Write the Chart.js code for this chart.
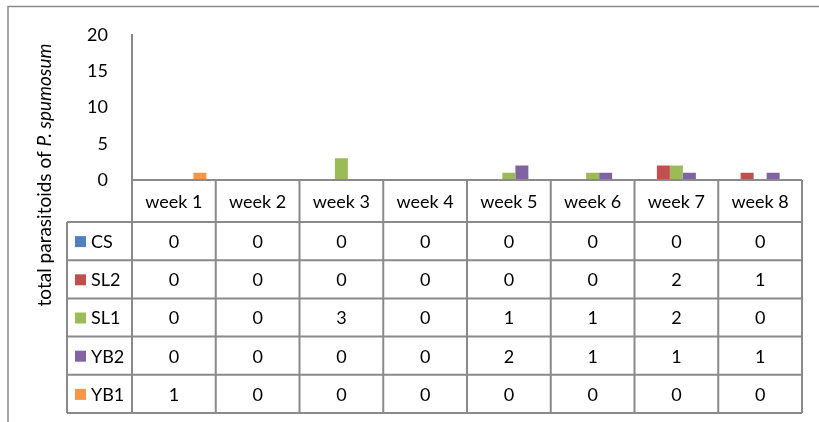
<!DOCTYPE html>
<html>
<head>
<meta charset="utf-8">
<script src="https://cdn.jsdelivr.net/npm/chart.js@4.4.1/dist/chart.umd.min.js"></script>
<style>
  html, body { margin: 0; padding: 0; background: #ffffff; }
  canvas { display: block; }
</style>
</head>
<body>
<canvas id="chart" width="819" height="422"></canvas>
<script>
// Weekly counts of parasitoids per treatment
const weeks = ['week 1', 'week 2', 'week 3', 'week 4', 'week 5', 'week 6', 'week 7', 'week 8'];
const seriesNames = ['CS', 'SL2', 'SL1', 'YB2', 'YB1'];
const csValues  = [0, 0, 0, 0, 0, 0, 0, 0];
const sl2Values = [0, 0, 0, 0, 0, 0, 2, 1];
const sl1Values = [0, 0, 3, 0, 1, 1, 2, 0];
const yb2Values = [0, 0, 0, 0, 2, 1, 1, 1];
const yb1Values = [1, 0, 0, 0, 0, 0, 0, 0];
const yTickValues = [0, 5, 10, 15, 20];

const seriesValues = [csValues, sl2Values, sl1Values, yb2Values, yb1Values];
const seriesColors = ['#4F81BD', '#C0504D', '#9BBB59', '#8064A2', '#F79646'];

const FONT = 'Lato, "Open Sans", sans-serif';
const LINE = '#8a8a8a';

// Layout of the data table under the plot
const TABLE = { headerBottom: 222, rowH: 38.2, legendLeft: 67 };

const framePlugin = {
  id: 'frame',
  beforeDraw(chart) {
    const ctx = chart.ctx;
    ctx.save();
    ctx.strokeStyle = LINE;
    ctx.lineWidth = 1.5;
    ctx.beginPath();
    ctx.moveTo(8, 422); ctx.lineTo(8, 6.5); ctx.lineTo(819, 6.5);
    ctx.stroke();
    ctx.restore();
  }
};

const yTitlePlugin = {
  id: 'yTitle',
  afterDraw(chart) {
    const ctx = chart.ctx;
    const parts = [
      { text: 'total parasitoids of ', font: '19px ' + FONT },
      { text: 'P. spumosum', font: 'italic 19px ' + FONT }
    ];
    ctx.save();
    let total = 0;
    parts.forEach(p => { ctx.font = p.font; p.w = ctx.measureText(p.text).width; total += p.w; });
    ctx.translate(45, 175);
    ctx.rotate(-Math.PI / 2);
    ctx.fillStyle = '#000';
    ctx.textBaseline = 'middle';
    ctx.textAlign = 'left';
    let x = -total / 2;
    parts.forEach(p => { ctx.font = p.font; ctx.fillText(p.text, x, 0); x += p.w; });
    ctx.restore();
  }
};

const dataTablePlugin = {
  id: 'dataTable',
  afterDraw(chart) {
    const ctx = chart.ctx;
    const ca = chart.chartArea;
    const xs = chart.scales.x;
    const n = weeks.length;
    const colW = (ca.right - ca.left) / n;
    const top = ca.bottom;
    const hb = TABLE.headerBottom;
    const rows = chart.data.datasets.length;
    const bottom = hb + rows * TABLE.rowH;

    ctx.save();
    ctx.strokeStyle = LINE;
    ctx.lineWidth = 2;
    ctx.beginPath();
    // header top edge
    ctx.moveTo(ca.left, top); ctx.lineTo(ca.right, top);
    // row lines
    for (let r = 0; r <= rows; r++) {
      const y = hb + r * TABLE.rowH;
      ctx.moveTo(TABLE.legendLeft, y); ctx.lineTo(ca.right, y);
    }
    // column lines
    for (let c = 0; c <= n; c++) {
      const x = ca.left + c * colW;
      ctx.moveTo(x, top); ctx.lineTo(x, bottom);
    }
    ctx.moveTo(TABLE.legendLeft, hb); ctx.lineTo(TABLE.legendLeft, bottom);
    ctx.stroke();

    ctx.fillStyle = '#000';
    ctx.font = '18px ' + FONT;
    ctx.textAlign = 'center';
    ctx.textBaseline = 'middle';
    weeks.forEach((w, i) => {
      ctx.fillText(w, xs.getPixelForValue(i), (top + hb) / 2 + 1);
    });

    chart.data.datasets.forEach((ds, r) => {
      const cy = hb + (r + 0.5) * TABLE.rowH + 1;
      ctx.fillStyle = ds.backgroundColor;
      ctx.fillRect(75, cy - 6, 11, 11);
      ctx.fillStyle = '#000';
      ctx.textAlign = 'left';
      ctx.fillText(ds.label, 91, cy);
      ctx.textAlign = 'center';
      ds.data.forEach((v, i) => {
        ctx.fillText(String(v), xs.getPixelForValue(i), cy);
      });
    });
    ctx.restore();
  }
};

new Chart(document.getElementById('chart'), {
  type: 'bar',
  data: {
    labels: weeks,
    datasets: seriesNames.map((name, i) => ({
      label: name,
      data: seriesValues[i],
      backgroundColor: seriesColors[i],
      borderWidth: 0,
      categoryPercentage: 0.776,
      barPercentage: 1
    }))
  },
  options: {
    responsive: false,
    devicePixelRatio: 1,
    animation: false,
    layout: { padding: { left: 0, top: 35, right: 17, bottom: 242 } },
    plugins: { legend: { display: false }, tooltip: { enabled: false }, title: { display: false } },
    scales: {
      x: { display: false },
      y: {
        min: 0,
        max: 20,
        afterBuildTicks(scale) { scale.ticks = yTickValues.map(v => ({ value: v })); },
        afterFit(scale) { scale.width = 132; },
        grid: { display: false, drawTicks: false },
        border: { display: true, color: LINE, width: 2 },
        ticks: { color: '#000', font: { family: FONT, size: 18 }, padding: 24 }
      }
    }
  },
  plugins: [framePlugin, yTitlePlugin, dataTablePlugin]
});
</script>
</body>
</html>
